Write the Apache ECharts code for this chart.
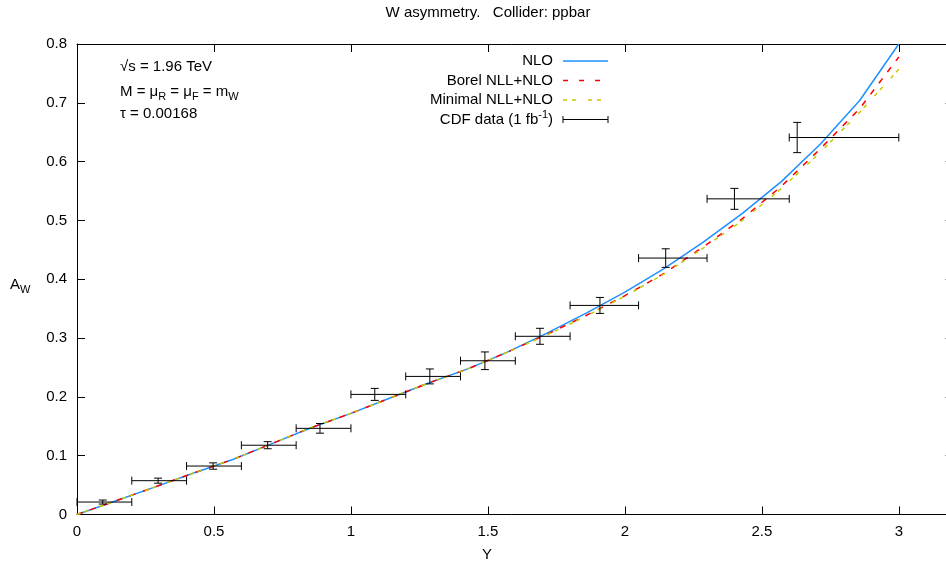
<!DOCTYPE html>
<html>
<head>
<meta charset="utf-8">
<script src="https://cdn.jsdelivr.net/npm/echarts@6/dist/echarts.min.js"></script>
<style>
  html, body { margin: 0; padding: 0; background: #fff; }
  #chart { width: 946px; height: 565px; }
</style>
</head>
<body>
<div id="chart"></div>
<script>
// Rapidity grid on which the theory curves are evaluated
const rapidity = [0, 0.143, 0.286, 0.429, 0.571, 0.714, 0.857, 1.0, 1.143, 1.286, 1.429,
                  1.571, 1.714, 1.857, 2.0, 2.143, 2.286, 2.429, 2.571, 2.714, 2.857, 3.0];
// W charge asymmetry predictions
const nlo        = [0, 0.0235, 0.047, 0.071, 0.094, 0.121, 0.148, 0.172, 0.198, 0.224, 0.248,
                    0.276, 0.308, 0.342, 0.378, 0.418, 0.463, 0.512, 0.566, 0.630, 0.704, 0.800];
const borelNll   = [0, 0.0235, 0.047, 0.071, 0.094, 0.121, 0.148, 0.172, 0.198, 0.224, 0.248,
                    0.276, 0.306, 0.338, 0.372, 0.410, 0.455, 0.503, 0.558, 0.622, 0.690, 0.778];
const minimalNll = [0, 0.0235, 0.047, 0.071, 0.094, 0.121, 0.148, 0.172, 0.198, 0.224, 0.248,
                    0.276, 0.305, 0.337, 0.371, 0.409, 0.453, 0.500, 0.554, 0.616, 0.684, 0.757];

// CDF measurement (1 fb^-1): bin centre, asymmetry, bin edges, uncertainty
const cdfY   = [0.094, 0.296, 0.497, 0.696, 0.887, 1.087, 1.288, 1.489, 1.690, 1.909, 2.149, 2.400, 2.629];
const cdfA   = [0.0212, 0.0575, 0.0824, 0.1178, 0.1465, 0.2042, 0.2348, 0.2614, 0.3030, 0.3555, 0.4360, 0.5367, 0.6410];
const cdfLo  = [0, 0.2, 0.4, 0.6, 0.8, 1.0, 1.2, 1.4, 1.6, 1.8, 2.05, 2.3, 2.6];
const cdfHi  = [0.2, 0.4, 0.6, 0.8, 1.0, 1.2, 1.4, 1.6, 1.8, 2.05, 2.3, 2.6, 3.0];
const cdfErr = [0.0034, 0.0043, 0.0054, 0.006, 0.0082, 0.0102, 0.0127, 0.015, 0.0136, 0.0136, 0.0158, 0.0178, 0.0257];

const FONT = "'Liberation Sans', Arial, sans-serif";
const FS = 15;

const toPairs = (xs, ys) => xs.map((x, i) => [x, ys[i]]);
const cdfRows = cdfY.map((y, i) => [y, cdfA[i], cdfLo[i], cdfHi[i], cdfA[i] - cdfErr[i], cdfA[i] + cdfErr[i]]);

const CAP = 4;
function errorBar(params, api) {
  const yv = api.value(1);
  const c  = api.coord([api.value(0), yv]);
  const xl = api.coord([api.value(2), yv]);
  const xh = api.coord([api.value(3), yv]);
  const yl = api.coord([api.value(0), api.value(4)]);
  const yh = api.coord([api.value(0), api.value(5)]);
  const st = { stroke: '#000', lineWidth: 1 };
  const seg = (x1, y1, x2, y2) => ({ type: 'line', shape: { x1, y1, x2, y2 }, style: st });
  return {
    type: 'group',
    children: [
      seg(xl[0], c[1], xh[0], c[1]),
      seg(xl[0], c[1] - CAP, xl[0], c[1] + CAP),
      seg(xh[0], c[1] - CAP, xh[0], c[1] + CAP),
      seg(c[0], yl[1], c[0], yh[1]),
      seg(c[0] - CAP, yl[1], c[0] + CAP, yl[1]),
      seg(c[0] - CAP, yh[1], c[0] + CAP, yh[1])
    ]
  };
}

const axisCommon = {
  axisLine: { show: true, onZero: false, lineStyle: { color: '#000', width: 1 } },
  axisTick: { show: true, inside: true, length: 8, lineStyle: { color: '#000' } },
  splitLine: { show: false },
  axisLabel: { color: '#000', fontFamily: FONT, fontSize: FS }
};

const legendRows = [
  { text: 'NLO', y: 61 },
  { text: 'Borel NLL+NLO', y: 80.5 },
  { text: 'Minimal NLL+NLO', y: 100 },
  { text: 'CDF data (1 fb-1)', y: 119.5 }
];
const LX0 = 563, LX1 = 608, LTX = 553;

const richSub = {
  n: { fontFamily: FONT, fontSize: FS, lineHeight: 20, verticalAlign: 'middle', fill: '#000' },
  s: { fontFamily: FONT, fontSize: 11, lineHeight: 10, verticalAlign: 'bottom', fill: '#000' },
  p: { fontFamily: FONT, fontSize: 11, lineHeight: 10, verticalAlign: 'top', fill: '#000' }
};

const graphics = [
  { type: 'text', x: 488, y: 13,
    style: { text: 'W asymmetry.   Collider: ppbar', align: 'center', verticalAlign: 'middle',
             font: `15px ${FONT}`, fill: '#000' } },
  { type: 'text', x: 120, y: 67,
    style: { text: '√s = 1.96 TeV', verticalAlign: 'middle', font: `${FS}px ${FONT}`, fill: '#000' } },
  { type: 'text', x: 120, y: 92,
    style: { text: '{n|M = μ}{s|R}{n| = μ}{s|F}{n| = m}{s|W}', verticalAlign: 'middle', rich: richSub } },
  { type: 'text', x: 120, y: 114,
    style: { text: 'τ = 0.00168', verticalAlign: 'middle', font: `${FS}px ${FONT}`, fill: '#000' } },
  { type: 'text', x: 10, y: 285,
    style: { text: '{n|A}{s|W}', verticalAlign: 'middle', rich: richSub } },
  { type: 'text', x: 487, y: 555,
    style: { text: 'Y', align: 'center', verticalAlign: 'middle', font: `${FS}px ${FONT}`, fill: '#000' } }
];

legendRows.forEach((r, i) => {
  graphics.push({ type: 'text', x: LTX, y: r.y,
    style: { text: i === 3 ? '{n|CDF data (1 fb}{p|-1}{n|)}' : r.text, align: 'right', verticalAlign: 'middle',
             font: `${FS}px ${FONT}`, fill: '#000', rich: richSub } });
});
graphics.push(
  { type: 'line', shape: { x1: LX0, y1: 61, x2: LX1, y2: 61 }, style: { stroke: '#1e90ff', lineWidth: 1.5 } },
  { type: 'line', shape: { x1: LX0, y1: 80.5, x2: LX1, y2: 80.5 }, style: { stroke: '#ff0000', lineWidth: 1.5, lineDash: [5, 11] } },
  { type: 'line', shape: { x1: LX0, y1: 100, x2: LX1, y2: 100 }, style: { stroke: '#c8c800', lineWidth: 1.5, lineDash: [4, 5, 4, 12] } },
  { type: 'line', shape: { x1: LX0, y1: 119.5, x2: LX1, y2: 119.5 }, style: { stroke: '#000', lineWidth: 1 } },
  { type: 'line', shape: { x1: LX0, y1: 116, x2: LX0, y2: 123 }, style: { stroke: '#000', lineWidth: 1 } },
  { type: 'line', shape: { x1: LX1, y1: 116, x2: LX1, y2: 123 }, style: { stroke: '#000', lineWidth: 1 } }
);

const chart = echarts.init(document.getElementById('chart'), null, { renderer: 'canvas' });
chart.setOption({
  animation: false,
  backgroundColor: '#fff',
  grid: { left: 77, width: 876.6, top: 44, height: 470.5, containLabel: false, outerBoundsMode: 'none' },
  xAxis: [
    Object.assign({}, axisCommon, { type: 'value', min: 0, max: 3.2, interval: 0.5, position: 'bottom',
      axisLabel: Object.assign({}, axisCommon.axisLabel, { margin: 10, showMaxLabel: false }) }),
    Object.assign({}, axisCommon, { type: 'value', min: 0, max: 3.2, interval: 0.5, position: 'top',
      axisLabel: { show: false } })
  ],
  yAxis: [
    Object.assign({}, axisCommon, { type: 'value', min: 0, max: 0.8, interval: 0.1, position: 'left',
      axisLabel: Object.assign({}, axisCommon.axisLabel, { margin: 10 }) }),
    Object.assign({}, axisCommon, { type: 'value', min: 0, max: 0.8, interval: 0.1, position: 'right',
      axisLabel: { show: false } })
  ],
  series: [
    { name: 'NLO', type: 'line', data: toPairs(rapidity, nlo), showSymbol: false, symbol: 'none',
      lineStyle: { color: '#1e90ff', width: 1.5 }, z: 2 },
    { name: 'Borel NLL+NLO', type: 'line', data: toPairs(rapidity, borelNll), showSymbol: false, symbol: 'none',
      lineStyle: { color: '#ff0000', width: 1.5, type: [6, 8] }, z: 3 },
    { name: 'Minimal NLL+NLO', type: 'line', data: toPairs(rapidity, minimalNll), showSymbol: false, symbol: 'none',
      lineStyle: { color: '#c8c800', width: 1.5, type: [4, 4, 4, 12] }, z: 4 },
    { name: 'CDF data (1 fb-1)', type: 'custom', renderItem: errorBar, data: cdfRows,
      encode: { x: [0, 2, 3], y: [1, 4, 5] }, clip: false, z: 5 }
  ],
  graphic: graphics
});
</script>
</body>
</html>
